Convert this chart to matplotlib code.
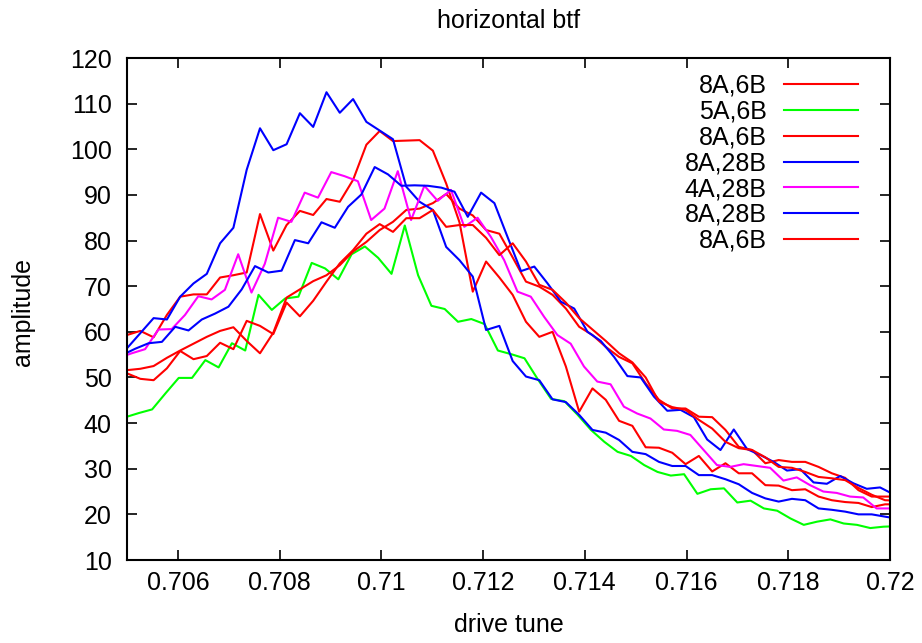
import matplotlib
matplotlib.use("Agg")
import matplotlib.pyplot as plt
import numpy as np

plt.rcParams['font.family'] = ['Liberation Sans', 'DejaVu Sans']

# drive-tune scan grid (start of each scan, common step)
tune_step = 0.00026145
start_r1 = 0.705
start_g = 0.704971
start_r2 = 0.705
start_b1 = 0.705
start_m = 0.704833
start_b2 = 0.704902
start_r3 = 0.705

amp_r1 = [59.3, 60.2, 58.8, 63.7, 67.7, 68.2, 68.2, 71.9, 72.4, 73.0,
          85.8, 77.8, 83.4, 86.5, 85.6, 89.1, 88.5, 93.3, 101.0, 104.0,
          101.8, 101.9, 102.0, 99.7, 92.5, 84.0, 68.8, 75.4, 71.9, 68.1,
          62.2, 58.9, 60.0, 52.4, 42.5, 47.6, 45.1, 40.5, 39.4, 34.7,
          34.6, 33.5, 31.0, 32.8, 29.4, 31.2, 29.0, 29.0, 26.4, 26.3,
          25.3, 25.5, 23.9, 23.1, 22.7, 22.5, 21.6, 22.2, 22.2]

amp_g = [41.3, 42.2, 43.0, 46.5, 49.9, 49.9, 53.8, 52.2, 57.5, 55.9,
         68.1, 64.8, 67.3, 67.7, 75.1, 73.9, 71.5, 77.0, 78.7, 76.2,
         72.7, 83.3, 72.4, 65.7, 65.0, 62.2, 62.8, 61.7, 55.9, 55.1,
         54.2, 49.6, 45.3, 44.8, 41.8, 38.5, 35.9, 33.7, 32.8, 30.8,
         29.3, 28.5, 28.8, 24.5, 25.5, 25.7, 22.6, 23.0, 21.3, 20.8,
         19.1, 17.7, 18.4, 18.9, 18.0, 17.7, 17.0, 17.3, 17.4]

amp_r2 = [51.6, 51.9, 52.5, 54.3, 55.9, 57.4, 58.9, 60.2, 61.0, 58.0,
          55.3, 59.8, 67.5, 69.3, 71.1, 72.4, 74.6, 77.6, 79.7, 82.3,
          84.1, 86.7, 87.0, 88.2, 90.2, 87.0, 85.5, 82.3, 81.5, 76.3,
          71.0, 69.9, 68.1, 65.1, 61.1, 59.3, 56.7, 54.5, 53.1, 48.7,
          45.1, 43.2, 43.2, 41.4, 41.3, 38.5, 34.8, 34.1, 31.2, 31.9,
          31.5, 31.5, 30.4, 29.0, 28.0, 25.3, 23.9, 23.9, 23.9]

amp_b1 = [56.4, 59.7, 63.0, 62.7, 67.7, 70.6, 72.7, 79.4, 82.8, 95.5,
          104.6, 99.8, 101.1, 107.9, 104.9, 112.5, 108.0, 111.0, 106.0, 104.1,
          102.2, 91.8, 88.5, 86.7, 78.6, 75.7, 72.1, 60.4, 61.3, 53.6,
          50.2, 49.4, 45.2, 44.6, 41.8, 38.5, 37.9, 36.3, 33.7, 33.2,
          31.5, 30.6, 30.6, 28.6, 28.6, 27.7, 26.6, 24.7, 23.5, 22.8,
          23.4, 23.1, 21.3, 21.0, 20.6, 20.0, 20.0, 19.5, 19.0]

amp_m = [54.3, 55.3, 56.2, 60.5, 60.6, 63.7, 67.8, 67.1, 69.2, 77.0,
         68.6, 74.9, 85.0, 84.1, 90.5, 89.4, 95.0, 94.1, 93.0, 84.5,
         87.0, 95.2, 84.5, 92.0, 88.7, 91.1, 83.0, 85.0, 80.8, 75.7,
         68.8, 67.7, 63.3, 59.3, 57.4, 52.4, 49.1, 48.5, 43.6, 42.1,
         41.0, 38.6, 38.3, 37.4, 34.1, 30.8, 30.4, 31.0, 30.6, 30.2,
         27.4, 28.1, 26.4, 25.0, 24.7, 23.9, 23.7, 21.3, 21.3, 21.3]

amp_b2 = [54.9, 56.3, 57.5, 57.8, 61.1, 60.3, 62.7, 64.0, 65.5, 69.3,
          74.4, 73.0, 73.4, 80.1, 79.4, 84.0, 82.8, 87.4, 90.1, 96.1,
          94.5, 92.0, 92.1, 92.0, 91.6, 90.7, 85.2, 90.5, 88.2, 80.7,
          73.3, 74.3, 70.6, 66.6, 65.1, 60.0, 58.0, 54.5, 50.3, 50.0,
          45.8, 42.7, 42.9, 41.3, 36.4, 34.1, 38.6, 34.3, 33.0, 31.5,
          29.6, 29.9, 27.0, 26.7, 28.4, 26.8, 25.6, 25.9, 24.4]

amp_r3 = [50.9, 49.7, 49.4, 52.0, 55.8, 54.0, 54.7, 57.6, 56.2, 62.4,
          61.3, 59.5, 66.4, 63.4, 66.8, 71.0, 75.0, 77.9, 81.5, 83.6,
          81.9, 84.9, 84.9, 86.7, 83.0, 83.4, 83.4, 80.6, 76.8, 79.4,
          75.4, 70.3, 69.2, 66.4, 63.0, 60.5, 58.0, 55.3, 53.3, 50.0,
          44.7, 43.5, 42.9, 40.7, 38.8, 35.9, 34.5, 34.1, 32.5, 30.4,
          30.2, 29.3, 28.2, 27.9, 27.5, 25.8, 24.3, 23.1, 23.0]

labels = ["8A,6B", "5A,6B", "8A,6B", "8A,28B", "4A,28B", "8A,28B", "8A,6B"]
colors = ["#ff0000", "#00ff00", "#ff0000", "#0000ff", "#ff00ff", "#0000ff", "#ff0000"]
starts = [start_r1, start_g, start_r2, start_b1, start_m, start_b2, start_r3]
amps = [amp_r1, amp_g, amp_r2, amp_b1, amp_m, amp_b2, amp_r3]

xticks = [0.706, 0.708, 0.71, 0.712, 0.714, 0.716, 0.718, 0.72]
xticklabels = ["0.706", "0.708", "0.71", "0.712", "0.714", "0.716", "0.718", "0.72"]
yticks = list(range(10, 121, 10))

FS = 18
W, H = 922, 643
fig = plt.figure(figsize=(W / 100, H / 100), dpi=100)
ax = fig.add_axes([127 / W, 1 - 560 / H, (890 - 127) / W, (560 - 58) / H])

for lab, col, x0, a in zip(labels, colors, starts, amps):
    x = x0 + tune_step * np.arange(len(a))
    ax.plot(x, a, color=col, lw=1.5, label=lab)

ax.set_xlim(0.705, 0.72)
ax.set_ylim(10, 120)
ax.set_xticks(xticks)
ax.set_xticklabels(xticklabels)
ax.set_yticks(yticks)
for s in ax.spines.values():
    s.set_linewidth(1.5)
ax.tick_params(direction='in', length=7, width=1.2, top=True, right=True,
               labelsize=FS)
ax.tick_params(axis='x', pad=8)
ax.tick_params(axis='y', pad=11)

ax.set_title("horizontal btf", fontsize=FS, y=(560 - 21) / 502, va='center', pad=0)
ax.set_xlabel("drive tune", fontsize=FS, va='center')
ax.xaxis.set_label_coords(0.5, (560 - 625) / 502)
ax.set_ylabel("amplitude", fontsize=FS, va='center')
ax.yaxis.set_label_coords((22.5 - 127) / 763, (560 - 312) / 502)

leg = ax.legend(loc='upper right', bbox_to_anchor=(857.5 / W, 1 - 74 / H),
                bbox_transform=fig.transFigure, frameon=False, markerfirst=False,
                fontsize=FS, handlelength=2.96, handletextpad=0.67,
                labelspacing=0.07, borderpad=0, borderaxespad=0)

fig.savefig("out.png", dpi=100)
